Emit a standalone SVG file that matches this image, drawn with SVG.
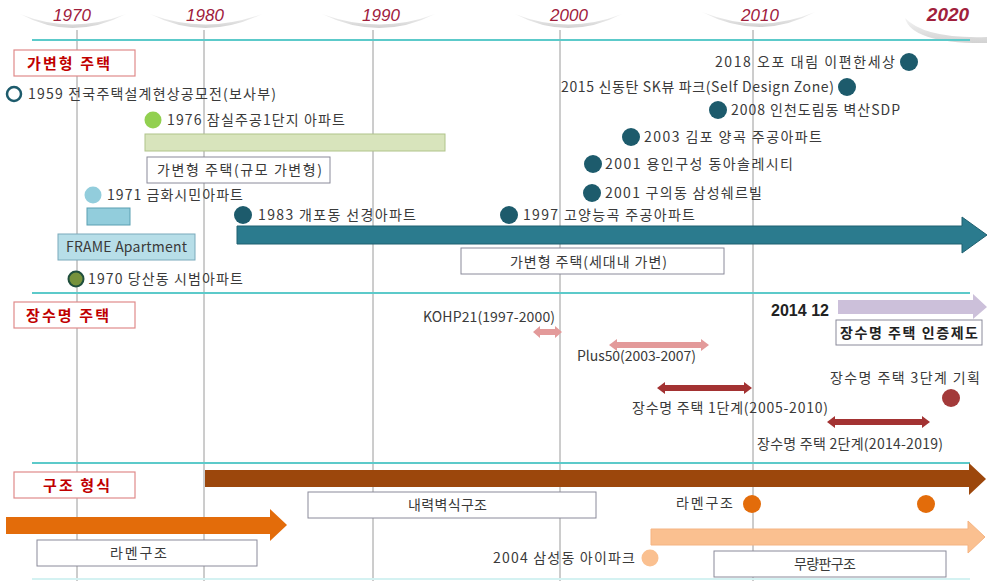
<svg xmlns="http://www.w3.org/2000/svg" width="987" height="581" viewBox="0 0 987 581">
<defs>
<style>
text{font-family:"Noto Sans CJK KR","Noto Sans",sans-serif;font-size:14px;fill:#3a3a3a}
.dec{font-family:"Liberation Sans",Arial,sans-serif;font-style:italic;font-size:17px;fill:#a0203c;text-anchor:middle}
.sec{font-size:15px;font-weight:bold;fill:#c00000}
.secbox{fill:#fff;stroke:#e08a8a;stroke-width:1.2}
.box{fill:#fff;stroke:#8a8a9a;stroke-width:1}
.vline{stroke:#9a9a9a;stroke-width:1}
.hline{stroke:#5ccaca;stroke-width:2}
.arc{fill:url(#sh)}
.dt{fill:#1d5b6c}
.pink{fill:#e39a9a}
.dred{fill:#a33232}
</style>
<linearGradient id="sh" x1="0" y1="0" x2="0" y2="1">
<stop offset="0" stop-color="#f4f4f4"/>
<stop offset="1" stop-color="#d2d2d2"/>
</linearGradient>
</defs>
<rect width="987" height="581" fill="#fff"/>
<g id="header">
<path class="arc" d="M20 14 Q72 42 126 14 Q72 35 20 14 Z"/>
<path class="arc" d="M150 14 Q205 42 262 14 Q205 35 150 14 Z"/>
<path class="arc" d="M322 14 Q380 42 435 14 Q380 35 322 14 Z"/>
<path class="arc" d="M515 14 Q568 42 622 14 Q568 35 515 14 Z"/>
<path class="arc" d="M702 12 Q760 42 815 12 Q760 35 702 12 Z"/>
<path class="arc" d="M905 18 Q912 44 987 43 L987 37 Q925 39 905 18 Z"/>
<text class="dec" x="72" y="21">1970</text>
<text class="dec" x="205" y="21">1980</text>
<text class="dec" x="381" y="21">1990</text>
<text class="dec" x="569" y="21">2000</text>
<text class="dec" x="760" y="21">2010</text>
<text class="dec" x="948" y="21" style="font-weight:bold;font-size:19px">2020</text>
</g>
<g id="grid">
<line class="vline" x1="77" y1="30" x2="77" y2="581"/>
<line class="vline" x1="204" y1="30" x2="204" y2="581"/>
<line class="vline" x1="373" y1="30" x2="373" y2="581"/>
<line class="vline" x1="560" y1="30" x2="560" y2="581"/>
<line class="vline" x1="753" y1="30" x2="753" y2="581"/>
<line class="hline" x1="32" y1="40" x2="970" y2="40"/>
<line class="hline" x1="32" y1="293" x2="970" y2="293"/>
<line class="hline" x1="32" y1="463" x2="970" y2="463"/>
<line x1="32" y1="579" x2="970" y2="579" stroke="#d4f2f2" stroke-width="2"/>
</g>
<g id="connectors">
<polygon fill="#2b7b8e" stroke="#1f6070" stroke-width="1" points="237,226 962,226 962,217 987,235 962,253 962,244 237,244"/>
<polygon fill="#ccc0da" points="838,300 973,300 973,294 987,307 973,319 973,314 838,314"/>
<polygon class="pink" points="533,332 540,326 540,329 555,329 555,326 562,332 555,338 555,335 540,335 540,338"/>
<polygon class="pink" points="609,345 617,339 617,342 701,342 701,339 709,345 701,351 701,348 617,348 617,351"/>
<polygon class="dred" points="657,388 665,382 665,385 744,385 744,382 752,388 744,394 744,391 665,391 665,394"/>
<polygon class="dred" points="827,422 835,416 835,419 922,419 922,416 930,422 922,428 922,425 835,425 835,428"/>
<polygon fill="#9c470c" points="205,470 969,470 969,463 986,479 969,495 969,487 205,487"/>
<polygon fill="#e36c0a" points="6,517 270,517 270,509 287,525 270,541 270,534 6,534"/>
<polygon fill="#fac090" stroke="#f5b482" stroke-width="1" points="651,529 968,529 968,521 985,537 968,553 968,545 651,545"/>
</g>
<g id="sec-variable">
<rect class="secbox" x="14" y="50" width="121" height="26"/>
<text class="sec" x="27" y="69" textLength="83" lengthAdjust="spacing">가변형 주택</text>
</g>
<g id="n1959">
<circle cx="14" cy="94" r="7" fill="#fff" stroke="#1d5b6c" stroke-width="2.5"/>
<text x="28" y="99" textLength="248" lengthAdjust="spacing">1959 전국주택설계현상공모전(보사부)</text>
</g>
<g id="n1976">
<circle cx="153" cy="120" r="8.5" fill="#92d050"/>
<text x="167" y="125" textLength="178" lengthAdjust="spacing">1976 잠실주공1단지 아파트</text>
<rect x="145" y="134" width="300" height="17" fill="#d8e4bc" stroke="#b0c48a" stroke-width="1"/>
<rect class="box" x="147" y="157" width="183" height="26"/>
<text x="157" y="175" textLength="165" lengthAdjust="spacing">가변형 주택(규모 가변형)</text>
</g>
<g id="n1971">
<circle cx="93" cy="195" r="8.5" fill="#92cddc"/>
<text x="107" y="200" textLength="136" lengthAdjust="spacing">1971 금화시민아파트</text>
<rect x="87" y="208" width="43" height="17" fill="#92cddc" stroke="#5a9fb2" stroke-width="1"/>
<rect x="58" y="234" width="137" height="26" fill="#b7dee8" stroke="#7aaabb" stroke-width="1"/>
<text x="66" y="252" textLength="121" lengthAdjust="spacing">FRAME Apartment</text>
</g>
<g id="n1970">
<circle cx="76" cy="279" r="7.5" fill="#76923c" stroke="#1f4e3d" stroke-width="2"/>
<text x="88" y="284" textLength="155" lengthAdjust="spacing">1970 당산동 시범아파트</text>
</g>
<g id="n1983">
<circle class="dt" cx="243" cy="215" r="9"/>
<text x="258" y="220" textLength="158" lengthAdjust="spacing">1983 개포동 선경아파트</text>
</g>
<g id="n1997">
<circle class="dt" cx="509" cy="215" r="9"/>
<text x="523" y="220" textLength="172" lengthAdjust="spacing">1997 고양능곡 주공아파트</text>
</g>
<g id="box-inner">
<rect class="box" x="461" y="248" width="263" height="26"/>
<text x="510" y="267" textLength="157" lengthAdjust="spacing">가변형 주택(세대내 가변)</text>
</g>
<g id="n2001a">
<circle class="dt" cx="592" cy="193" r="9"/>
<text x="605" y="198" textLength="157" lengthAdjust="spacing">2001 구의동 삼성쉐르빌</text>
</g>
<g id="n2001b">
<circle class="dt" cx="593" cy="164" r="9"/>
<text x="605" y="169" textLength="188" lengthAdjust="spacing">2001 용인구성 동아솔레시티</text>
</g>
<g id="n2003">
<circle class="dt" cx="631" cy="137" r="9"/>
<text x="644" y="142" textLength="178" lengthAdjust="spacing">2003 김포 양곡 주공아파트</text>
</g>
<g id="n2008">
<circle class="dt" cx="718" cy="110" r="9"/>
<text x="731" y="115" textLength="169" lengthAdjust="spacing">2008 인천도림동 벽산SDP</text>
</g>
<g id="n2015">
<circle class="dt" cx="847" cy="87" r="9"/>
<text x="561" y="92" textLength="273" lengthAdjust="spacing">2015 신동탄 SK뷰 파크(Self Design Zone)</text>
</g>
<g id="n2018">
<circle class="dt" cx="909" cy="62" r="9"/>
<text x="715" y="67" textLength="180" lengthAdjust="spacing">2018 오포 대림 이편한세상</text>
</g>
<g id="sec-long">
<rect class="secbox" x="14" y="302" width="121" height="26"/>
<text class="sec" x="26" y="321" textLength="83" lengthAdjust="spacing">장수명 주택</text>
</g>
<g id="cert">
<text x="771" y="316" textLength="58" lengthAdjust="spacing" style="font-family:'Liberation Sans',Arial,sans-serif;font-weight:bold;font-size:16px;fill:#222">2014 12</text>
<rect class="box" x="836" y="320" width="146" height="25"/>
<text x="840" y="338" textLength="138" lengthAdjust="spacing" style="font-weight:bold;font-size:14px;fill:#222">장수명 주택 인증제도</text>
</g>
<g id="kohp">
<text x="423" y="322" textLength="132" lengthAdjust="spacing">KOHP21(1997-2000)</text>
</g>
<g id="plus50">
<text x="577" y="361" textLength="119" lengthAdjust="spacing">Plus50(2003-2007)</text>
</g>
<g id="stage1">
<text x="632" y="413" textLength="196" lengthAdjust="spacing">장수명 주택 1단계(2005-2010)</text>
</g>
<g id="stage2">
<text x="757" y="449" textLength="186" lengthAdjust="spacing">장수명 주택 2단계(2014-2019)</text>
</g>
<g id="stage3">
<text x="830" y="383" textLength="150" lengthAdjust="spacing">장수명 주택 3단계 기획</text>
<circle cx="951" cy="398" r="9" fill="#a33a3a"/>
</g>
<g id="sec-struct">
<rect class="secbox" x="14" y="472" width="121" height="26"/>
<text class="sec" x="43" y="491" textLength="67" lengthAdjust="spacing">구조 형식</text>
</g>
<g id="bearing">
<rect class="box" x="308" y="492" width="288" height="26"/>
<text x="408" y="510" textLength="79" lengthAdjust="spacing">내력벽식구조</text>
</g>
<g id="rahmen1">
<rect class="box" x="37" y="540" width="220" height="26"/>
<text x="110" y="558" textLength="57" lengthAdjust="spacing">라멘구조</text>
</g>
<g id="rahmen2">
<text x="676" y="508" textLength="57" lengthAdjust="spacing">라멘구조</text>
<circle cx="752" cy="504" r="9" fill="#e36c0a"/>
<circle cx="926" cy="504" r="9" fill="#e36c0a"/>
</g>
<g id="n2004">
<text x="493" y="563" textLength="142" lengthAdjust="spacing">2004 삼성동 아이파크</text>
<circle cx="650" cy="558" r="8.5" fill="#fac090"/>
</g>
<g id="flatslab">
<rect class="box" x="714" y="551" width="232" height="26"/>
<text x="794" y="569" textLength="62" lengthAdjust="spacing">무량판구조</text>
</g>
</svg>
